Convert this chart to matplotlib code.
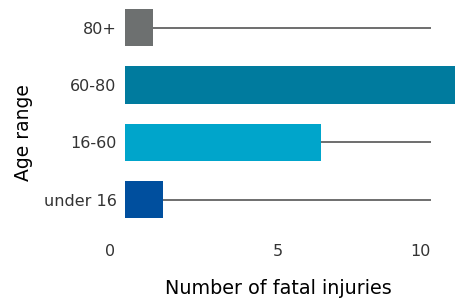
import matplotlib
matplotlib.use("Agg")
import matplotlib.pyplot as plt

# Data
ages = ["under 16", "16-60", "60-80", "80+"]
fatal = [1.25, 6.4, 11.0, 0.9]
colors = ["#004f9e", "#00a5cb", "#007b9e", "#6d7070"]
xticks = [0, 5, 10]
xtick_labels = ["0  ", "5", "10"]  # trailing space pushes "0" left under the labels

plt.rcParams["font.family"] = ["DejaVu Sans"]

fig = plt.figure(figsize=(4.55, 2.99), dpi=100)
ax = fig.add_axes([0.2747, 0.2308, 0.7253, 0.7692])

ypos = range(len(ages))
# guide lines from 0 to 10 behind each bar
ax.hlines(ypos, 0, 10, colors="#6e6e6e", linewidth=1.4, zorder=1)
ax.barh(ypos, fatal, height=0.65, color=colors, zorder=2)

ax.set_xlim(0, 10.78)
ax.set_ylim(-0.53, 3.48)

ax.set_yticks(list(ypos))
ax.set_yticklabels(ages, fontsize=11.5, color="#333333")
ax.set_xticks(xticks)
ax.set_xticklabels(xtick_labels, fontsize=11.5, color="#333333")
labels = ax.get_xticklabels()
labels[0].set_horizontalalignment("right")
labels[-1].set_horizontalalignment("right")
ax.tick_params(axis="y", length=0, pad=6)
ax.tick_params(axis="x", length=0, pad=10)
for s in ax.spines.values():
    s.set_visible(False)

ax.set_xlabel("Number of fatal injuries", fontsize=13.8)
ax.set_ylabel("Age range", fontsize=13.5)
ax.xaxis.set_label_coords(0.464, -0.212)
ax.yaxis.set_label_coords(-0.28, 0.425)

fig.savefig("out.png", dpi=100)
